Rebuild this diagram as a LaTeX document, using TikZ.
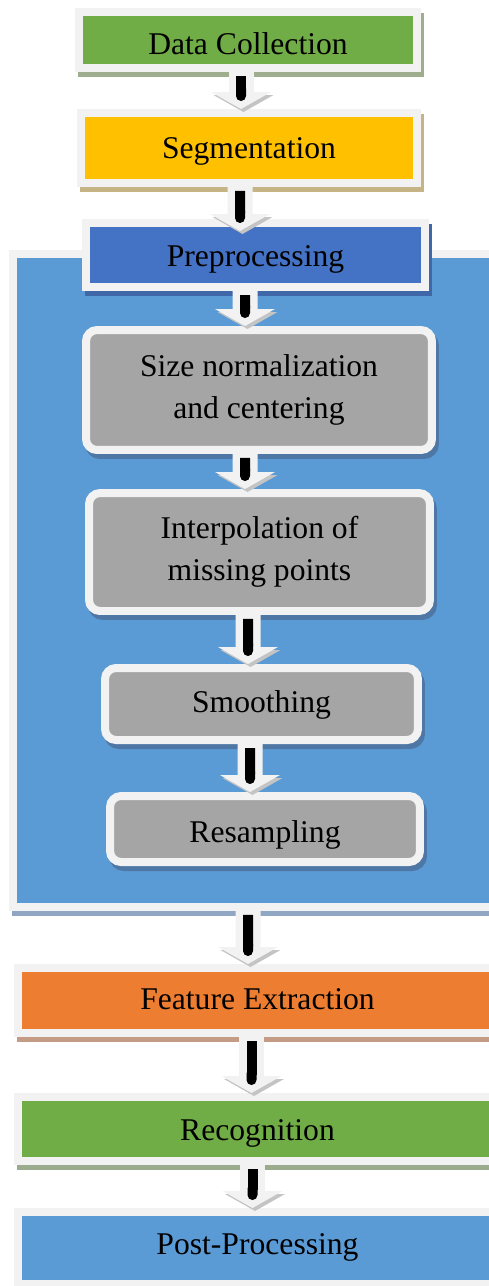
\documentclass[tikz,border=0pt]{standalone}
\usepackage{fontspec}
\setmainfont{Liberation Serif}
\usetikzlibrary{arrows.meta,shadows}
\definecolor{rim}{HTML}{F2F2F2}
\definecolor{arrshade}{HTML}{C4C4C4}
\definecolor{dcgreen}{HTML}{70AD47}
\definecolor{dcshade}{HTML}{9EAE8E}
\definecolor{segyellow}{HTML}{FFC000}
\definecolor{segshade}{HTML}{C6B386}
\definecolor{preblue}{HTML}{4472C4}
\definecolor{preshade}{HTML}{4068A8}
\definecolor{contblue}{HTML}{5B9BD5}
\definecolor{contshade}{HTML}{8FA7C2}
\definecolor{stepgray}{HTML}{A5A5A5}
\definecolor{stepshade}{HTML}{4F77A6}
\definecolor{featorange}{HTML}{ED7D31}
\definecolor{featshade}{HTML}{C49C86}
\definecolor{recshade}{HTML}{9AAB8E}
\begin{document}
\begin{tikzpicture}[x=0.02cm,y=-0.02cm,
    box/.style={draw=rim,line width=0.16cm,inner sep=0pt,align=center,
        font=\fontsize{18}{23.8}\selectfont},
    oneline/.style={text height=#1,text depth=0pt},
    boxshade/.style={general shadow={shadow xshift=0.06cm,shadow yshift=-0.1cm,fill=#1,draw=#1}},
    stepbox/.style={box,rounded corners=0.22cm,fill=stepgray,boxshade=stepshade},
    flow/.style={draw=rim,line width=0.5cm,
        -{Triangle[length=0.34cm,width=1.2cm,line width=0pt]},
        general shadow={shadow xshift=0.05cm,shadow yshift=-0.06cm,draw=arrshade},
        postaction={draw=black,line width=0.2cm,shorten <=0.08cm,shorten >=0.16cm,-{Round Cap[]}}}]
    \useasboundingbox (0,0) rectangle (489,1286);
    \clip (0,0) rectangle (489,1286);

    \node[box,fill=contblue,boxshade=contshade,minimum width=9.68cm,minimum height=13.06cm] (prebg) at (255,580.5) {};

    \node[box,oneline=16.5pt,fill=dcgreen,boxshade=dcshade,minimum width=6.76cm,minimum height=1.12cm] (dc) at (248,40) {Data Collection};
    \node[box,oneline=11.9pt,fill=segyellow,boxshade=segshade,minimum width=6.72cm,minimum height=1.4cm] (seg) at (249,148) {Segmentation};
    \node[box,oneline=13.6pt,fill=preblue,boxshade=preshade,minimum width=6.78cm,minimum height=1.28cm] (pre) at (255.5,255) {Preprocessing};

    \node[stepbox,minimum width=6.92cm,minimum height=2.4cm] (size) at (259,390) {Size normalization\\and centering};
    \node[stepbox,minimum width=6.82cm,minimum height=2.36cm] (interp) at (259.5,552) {Interpolation of\\missing points};
    \node[stepbox,oneline=9.1pt,minimum width=6.26cm,minimum height=1.44cm] (smooth) at (261.5,704) {Smoothing};
    \node[stepbox,oneline=15.3pt,minimum width=6.2cm,minimum height=1.32cm] (resamp) at (265,829) {Resampling};

    \node[box,oneline=10.2pt,fill=featorange,boxshade=featshade,minimum width=9.58cm,minimum height=1.3cm] (feat) at (257.5,1000.5) {Feature Extraction};
    \node[box,oneline=13.6pt,fill=dcgreen,boxshade=recshade,minimum width=9.58cm,minimum height=1.28cm] (recog) at (257.5,1129) {Recognition};
    \node[box,oneline=7.3pt,fill=contblue,boxshade=contshade,minimum width=9.58cm,minimum height=1.44cm] (post) at (257.5,1248) {Post-Processing};

    \draw[flow] ([xshift=-0.14cm]dc.south) -- ([xshift=-0.16cm]seg.north);
    \draw[flow] ([xshift=-0.18cm]seg.south) -- ([xshift=-0.31cm,yshift=-0.24cm]pre.north);
    \draw[flow] ([xshift=-0.21cm]pre.south) -- ([xshift=-0.28cm]size.north);
    \draw[flow] ([xshift=-0.28cm]size.south) -- ([xshift=-0.29cm]interp.north);
    \draw[flow] ([xshift=-0.23cm]interp.south) -- ([xshift=-0.27cm]smooth.north);
    \draw[flow] ([xshift=-0.23cm]smooth.south) -- ([xshift=-0.3cm]resamp.north);
    \draw[flow] ([xshift=-0.14cm]prebg.south) -- ([xshift=-0.19cm]feat.north);
    \draw[flow] ([xshift=-0.12cm]feat.south) -- ([xshift=-0.12cm]recog.north);
    \draw[flow] ([xshift=-0.1cm]recog.south) -- ([xshift=-0.1cm]post.north);
\end{tikzpicture}
\end{document}
